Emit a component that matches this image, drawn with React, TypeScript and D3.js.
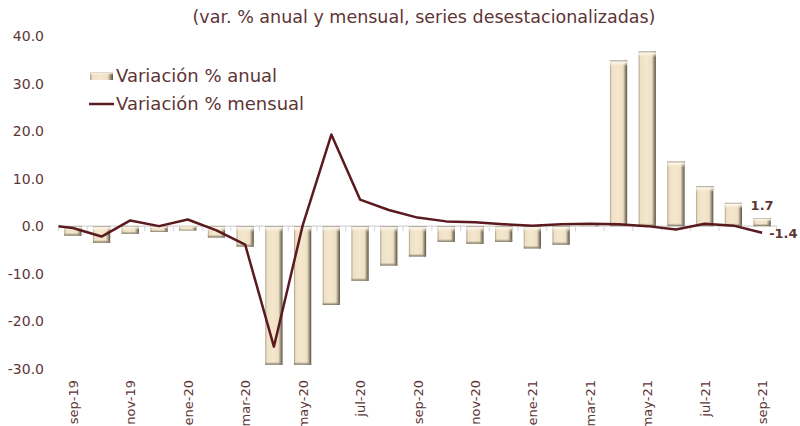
import React from "react";
import * as d3 from "d3";

const categories = [
  "sep-19", "oct-19", "nov-19", "dic-19", "ene-20", "feb-20", "mar-20", "abr-20", "may-20",
  "jun-20", "jul-20", "ago-20", "sep-20", "oct-20", "nov-20", "dic-20", "ene-21", "feb-21",
  "mar-21", "abr-21", "may-21", "jun-21", "jul-21", "ago-21", "sep-21",
];
const anual = [
  -2.0, -3.5, -1.6, -1.2, -0.9, -2.4, -4.3, -29.2, -29.2, -16.6, -11.5, -8.3, -6.4, -3.3,
  -3.7, -3.3, -4.7, -3.9, 0.2, 34.9, 36.8, 13.6, 8.4, 4.9, 1.7,
];
const mensual = [
  -0.4, -2.2, 1.2, 0.0, 1.4, -0.9, -3.9, -25.4, 0.1, 19.3, 5.6, 3.4, 1.8, 1.0, 0.8, 0.4,
  0.1, 0.4, 0.5, 0.4, 0.0, -0.7, 0.5, 0.1, -1.4,
];
// value of the month before the first category, only visible as the clipped start of the line
const mensualPrevio = 0.3;
const yTicks = [40, 30, 20, 10, 0, -10, -20, -30];
const titleText = "(var. % anual y mensual, series desestacionalizadas)";
const legendAnual = "Variación % anual";
const legendMensual = "Variación % mensual";

const W = 800;
const H = 426;
const FONT = "'DejaVu Sans', sans-serif";
const TEXT = "#5e3535";
const LINE = "#5a1a20";

export default function App() {
  const x = d3.scaleBand<string>().domain(categories).range([58.5, 776.5]).paddingInner(0.4).paddingOuter(0.2);
  const y = d3.scaleLinear().domain([-30, 40]).range([368.5, 36.3]);
  const step = x.step();
  const cx = (c: string) => (x(c) as number) + x.bandwidth() / 2;

  const pts: [number, number][] = [
    [cx(categories[0]) - step, mensualPrevio],
    ...categories.map((c, i) => [cx(c), mensual[i]] as [number, number]),
  ];
  const line = d3.line<[number, number]>().x((d) => d[0]).y((d) => y(d[1]))(pts) as string;
  const y0 = y(0);
  const left = 58.5;
  const right = 776.5;
  const boundaries = d3.range(categories.length + 1).map((i) => left + i * step);
  const last = categories.length - 1;

  return (
    <svg width={W} height={H} style={{ position: "absolute", left: 0, top: 0, background: "#fff" }}>
      <defs>
        <linearGradient id="barH" x1="0" x2="1" y1="0" y2="0">
          <stop offset="0" stopColor="#a89c86" />
          <stop offset="0.1" stopColor="#efe1c6" />
          <stop offset="0.45" stopColor="#f5e7cd" />
          <stop offset="0.76" stopColor="#ede0c4" />
          <stop offset="0.86" stopColor="#b0a48d" />
          <stop offset="1" stopColor="#564e43" />
        </linearGradient>
        <linearGradient id="capV" x1="0" x2="0" y1="0" y2="1">
          <stop offset="0" stopColor="#9a907e" />
          <stop offset="0.25" stopColor="#fffaf0" />
          <stop offset="1" stopColor="#f5e7cd" stopOpacity="0" />
        </linearGradient>
        <linearGradient id="botV" x1="0" x2="0" y1="0" y2="1">
          <stop offset="0" stopColor="#b3a78f" stopOpacity="0" />
          <stop offset="1" stopColor="#6f6657" />
        </linearGradient>
        <clipPath id="plot">
          <rect x={left} y={20} width={right - left} height={380} />
        </clipPath>
      </defs>

      <text x={424} y={23} textAnchor="middle" fontFamily={FONT} fontSize={17.5} fill={TEXT}>
        {titleText}
      </text>

      {yTicks.map((t) => (
        <text key={t} x={44} y={y(t) + 5} textAnchor="end" fontFamily={FONT} fontSize={14} fill={TEXT}>
          {t.toFixed(1)}
        </text>
      ))}

      <line x1={left} x2={right} y1={y0} y2={y0} stroke="#d4d4d4" strokeWidth={1.2} />
      {boundaries.map((bx, i) => (
        <line key={i} x1={bx} x2={bx} y1={y0} y2={y0 + 5} stroke="#d4d4d4" strokeWidth={1} />
      ))}

      {categories.map((c, i) => {
        const v = anual[i];
        const top = Math.min(y(v), y0);
        const h = Math.abs(y(v) - y0);
        const bx = x(c) as number;
        const bw = x.bandwidth();
        const cap = Math.min(6, h / 2);
        return (
          <g key={c}>
            <rect x={bx} y={top} width={bw} height={h} fill="url(#barH)" />
            <rect x={bx} y={top} width={bw} height={cap} fill="url(#capV)" />
            <rect x={bx} y={top + h - Math.min(3, h / 3)} width={bw} height={Math.min(3, h / 3)} fill="url(#botV)" />
          </g>
        );
      })}

      <path d={line} fill="none" stroke={LINE} strokeWidth={2.5} strokeLinejoin="round" clipPath="url(#plot)" />

      <text x={cx(categories[last])} y={y(anual[last]) - 8} textAnchor="middle" fontFamily={FONT} fontSize={13} fontWeight="bold" fill={TEXT}>
        {anual[last].toFixed(1)}
      </text>
      <text x={cx(categories[last]) + 7} y={y(mensual[last]) + 5} textAnchor="start" fontFamily={FONT} fontSize={13} fontWeight="bold" fill={TEXT}>
        {mensual[last].toFixed(1)}
      </text>

      {categories.map((c, i) =>
        i % 2 === 0 ? (
          <text
            key={c}
            transform={`translate(${cx(c) + 5},${380}) rotate(-90)`}
            textAnchor="end"
            fontFamily={FONT}
            fontSize={13}
            fill={TEXT}
          >
            {c}
          </text>
        ) : null
      )}

      <g>
        <rect x={90} y={72} width={23} height={8} fill="url(#barH)" />
        <rect x={90} y={72} width={23} height={3} fill="url(#capV)" />
        <text x={116} y={82} fontFamily={FONT} fontSize={18} fill={TEXT}>
          {legendAnual}
        </text>
        <line x1={89} x2={114} y1={104} y2={104} stroke={LINE} strokeWidth={2.5} />
        <text x={116} y={110} fontFamily={FONT} fontSize={18} fill={TEXT}>
          {legendMensual}
        </text>
      </g>
    </svg>
  );
}
